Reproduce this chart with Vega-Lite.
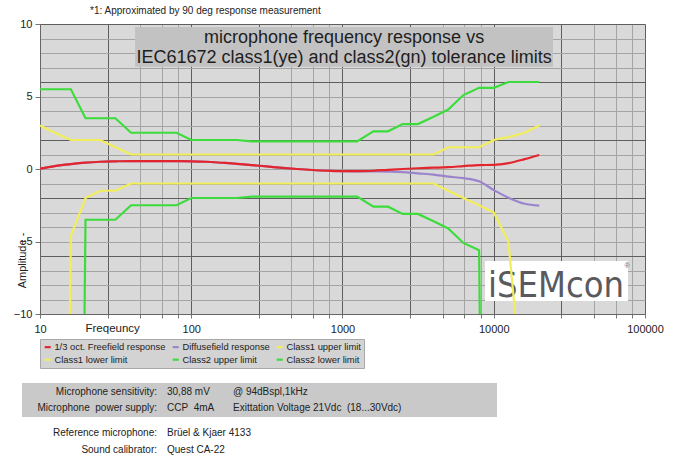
{
  "$schema": "https://vega.github.io/schema/vega-lite/v6.json",
  "background": "white",
  "padding": {"left": 13, "top": 6, "right": 4, "bottom": 0},
  "config": {
    "font": "Liberation Sans",
    "view": {"stroke": null},
    "axis": {"labelFont": "Liberation Sans", "titleFont": "Liberation Sans"},
    "legend": {"labelFont": "Liberation Sans"}
  },
  "datasets": {
    "limits": [
      {"f": 10, "v": 5.5, "s": "Class2 upper limit"},
      {"f": 16, "v": 5.5, "s": "Class2 upper limit"},
      {"f": 20, "v": 3.5, "s": "Class2 upper limit"},
      {"f": 31.5, "v": 3.5, "s": "Class2 upper limit"},
      {"f": 40, "v": 2.5, "s": "Class2 upper limit"},
      {"f": 80, "v": 2.5, "s": "Class2 upper limit"},
      {"f": 100, "v": 2.0, "s": "Class2 upper limit"},
      {"f": 200, "v": 2.0, "s": "Class2 upper limit"},
      {"f": 250, "v": 1.9, "s": "Class2 upper limit"},
      {"f": 1250, "v": 1.9, "s": "Class2 upper limit"},
      {"f": 1600, "v": 2.6, "s": "Class2 upper limit"},
      {"f": 2000, "v": 2.6, "s": "Class2 upper limit"},
      {"f": 2500, "v": 3.1, "s": "Class2 upper limit"},
      {"f": 3150, "v": 3.1, "s": "Class2 upper limit"},
      {"f": 4000, "v": 3.6, "s": "Class2 upper limit"},
      {"f": 5000, "v": 4.1, "s": "Class2 upper limit"},
      {"f": 6300, "v": 5.1, "s": "Class2 upper limit"},
      {"f": 8000, "v": 5.6, "s": "Class2 upper limit"},
      {"f": 10000, "v": 5.6, "s": "Class2 upper limit"},
      {"f": 12500, "v": 6.0, "s": "Class2 upper limit"},
      {"f": 20000, "v": 6.0, "s": "Class2 upper limit"},

      {"f": 16, "v": -100, "s": "Class2 lower limit"},
      {"f": 20, "v": -3.5, "s": "Class2 lower limit"},
      {"f": 31.5, "v": -3.5, "s": "Class2 lower limit"},
      {"f": 40, "v": -2.5, "s": "Class2 lower limit"},
      {"f": 80, "v": -2.5, "s": "Class2 lower limit"},
      {"f": 100, "v": -2.0, "s": "Class2 lower limit"},
      {"f": 200, "v": -2.0, "s": "Class2 lower limit"},
      {"f": 250, "v": -1.9, "s": "Class2 lower limit"},
      {"f": 1250, "v": -1.9, "s": "Class2 lower limit"},
      {"f": 1600, "v": -2.6, "s": "Class2 lower limit"},
      {"f": 2000, "v": -2.6, "s": "Class2 lower limit"},
      {"f": 2500, "v": -3.1, "s": "Class2 lower limit"},
      {"f": 3150, "v": -3.1, "s": "Class2 lower limit"},
      {"f": 4000, "v": -3.6, "s": "Class2 lower limit"},
      {"f": 5000, "v": -4.1, "s": "Class2 lower limit"},
      {"f": 6300, "v": -5.1, "s": "Class2 lower limit"},
      {"f": 8000, "v": -5.6, "s": "Class2 lower limit"},
      {"f": 10000, "v": -100, "s": "Class2 lower limit"},

      {"f": 10, "v": 3.0, "s": "Class1 upper limit"},
      {"f": 12.5, "v": 2.5, "s": "Class1 upper limit"},
      {"f": 16, "v": 2.0, "s": "Class1 upper limit"},
      {"f": 25, "v": 2.0, "s": "Class1 upper limit"},
      {"f": 31.5, "v": 1.5, "s": "Class1 upper limit"},
      {"f": 40, "v": 1.0, "s": "Class1 upper limit"},
      {"f": 4000, "v": 1.0, "s": "Class1 upper limit"},
      {"f": 5000, "v": 1.5, "s": "Class1 upper limit"},
      {"f": 8000, "v": 1.5, "s": "Class1 upper limit"},
      {"f": 10000, "v": 2.0, "s": "Class1 upper limit"},
      {"f": 12500, "v": 2.2, "s": "Class1 upper limit"},
      {"f": 16000, "v": 2.5, "s": "Class1 upper limit"},
      {"f": 20000, "v": 3.0, "s": "Class1 upper limit"},

      {"f": 12.5, "v": -100, "s": "Class1 lower limit"},
      {"f": 16, "v": -4.6, "s": "Class1 lower limit"},
      {"f": 20, "v": -2.0, "s": "Class1 lower limit"},
      {"f": 25, "v": -1.5, "s": "Class1 lower limit"},
      {"f": 31.5, "v": -1.5, "s": "Class1 lower limit"},
      {"f": 40, "v": -1.0, "s": "Class1 lower limit"},
      {"f": 4000, "v": -1.0, "s": "Class1 lower limit"},
      {"f": 5000, "v": -1.5, "s": "Class1 lower limit"},
      {"f": 6300, "v": -2.0, "s": "Class1 lower limit"},
      {"f": 8000, "v": -2.5, "s": "Class1 lower limit"},
      {"f": 10000, "v": -3.0, "s": "Class1 lower limit"},
      {"f": 12500, "v": -5.0, "s": "Class1 lower limit"},
      {"f": 16000, "v": -17.0, "s": "Class1 lower limit"}
    ],
    "diffuse": [
      {"f": 10, "v": 0.02, "s": "Diffusefield response"},
      {"f": 12.5, "v": 0.2, "s": "Diffusefield response"},
      {"f": 16, "v": 0.34, "s": "Diffusefield response"},
      {"f": 20, "v": 0.44, "s": "Diffusefield response"},
      {"f": 25, "v": 0.5, "s": "Diffusefield response"},
      {"f": 31.5, "v": 0.53, "s": "Diffusefield response"},
      {"f": 40, "v": 0.55, "s": "Diffusefield response"},
      {"f": 50, "v": 0.55, "s": "Diffusefield response"},
      {"f": 63, "v": 0.55, "s": "Diffusefield response"},
      {"f": 80, "v": 0.54, "s": "Diffusefield response"},
      {"f": 100, "v": 0.53, "s": "Diffusefield response"},
      {"f": 125, "v": 0.5, "s": "Diffusefield response"},
      {"f": 160, "v": 0.43, "s": "Diffusefield response"},
      {"f": 200, "v": 0.36, "s": "Diffusefield response"},
      {"f": 250, "v": 0.27, "s": "Diffusefield response"},
      {"f": 315, "v": 0.18, "s": "Diffusefield response"},
      {"f": 400, "v": 0.08, "s": "Diffusefield response"},
      {"f": 500, "v": 0.0, "s": "Diffusefield response"},
      {"f": 630, "v": -0.07, "s": "Diffusefield response"},
      {"f": 800, "v": -0.12, "s": "Diffusefield response"},
      {"f": 1000, "v": -0.15, "s": "Diffusefield response"},
      {"f": 1250, "v": -0.16, "s": "Diffusefield response"},
      {"f": 1600, "v": -0.17, "s": "Diffusefield response"},
      {"f": 2000, "v": -0.18, "s": "Diffusefield response"},
      {"f": 2500, "v": -0.21, "s": "Diffusefield response"},
      {"f": 3150, "v": -0.3, "s": "Diffusefield response"},
      {"f": 4000, "v": -0.39, "s": "Diffusefield response"},
      {"f": 5000, "v": -0.53, "s": "Diffusefield response"},
      {"f": 6300, "v": -0.63, "s": "Diffusefield response"},
      {"f": 8000, "v": -0.85, "s": "Diffusefield response"},
      {"f": 10000, "v": -1.45, "s": "Diffusefield response"},
      {"f": 12500, "v": -1.98, "s": "Diffusefield response"},
      {"f": 16000, "v": -2.4, "s": "Diffusefield response"},
      {"f": 20000, "v": -2.53, "s": "Diffusefield response"}
    ],
    "free": [
      {"f": 10, "v": 0.02, "s": "1/3 oct. Freefield response"},
      {"f": 12.5, "v": 0.2, "s": "1/3 oct. Freefield response"},
      {"f": 16, "v": 0.34, "s": "1/3 oct. Freefield response"},
      {"f": 20, "v": 0.44, "s": "1/3 oct. Freefield response"},
      {"f": 25, "v": 0.5, "s": "1/3 oct. Freefield response"},
      {"f": 31.5, "v": 0.53, "s": "1/3 oct. Freefield response"},
      {"f": 40, "v": 0.55, "s": "1/3 oct. Freefield response"},
      {"f": 50, "v": 0.55, "s": "1/3 oct. Freefield response"},
      {"f": 63, "v": 0.55, "s": "1/3 oct. Freefield response"},
      {"f": 80, "v": 0.54, "s": "1/3 oct. Freefield response"},
      {"f": 100, "v": 0.53, "s": "1/3 oct. Freefield response"},
      {"f": 125, "v": 0.5, "s": "1/3 oct. Freefield response"},
      {"f": 160, "v": 0.43, "s": "1/3 oct. Freefield response"},
      {"f": 200, "v": 0.36, "s": "1/3 oct. Freefield response"},
      {"f": 250, "v": 0.27, "s": "1/3 oct. Freefield response"},
      {"f": 315, "v": 0.18, "s": "1/3 oct. Freefield response"},
      {"f": 400, "v": 0.08, "s": "1/3 oct. Freefield response"},
      {"f": 500, "v": 0.0, "s": "1/3 oct. Freefield response"},
      {"f": 630, "v": -0.07, "s": "1/3 oct. Freefield response"},
      {"f": 800, "v": -0.12, "s": "1/3 oct. Freefield response"},
      {"f": 1000, "v": -0.15, "s": "1/3 oct. Freefield response"},
      {"f": 1250, "v": -0.15, "s": "1/3 oct. Freefield response"},
      {"f": 1600, "v": -0.12, "s": "1/3 oct. Freefield response"},
      {"f": 2000, "v": -0.06, "s": "1/3 oct. Freefield response"},
      {"f": 2500, "v": 0.0, "s": "1/3 oct. Freefield response"},
      {"f": 3150, "v": 0.05, "s": "1/3 oct. Freefield response"},
      {"f": 4000, "v": 0.09, "s": "1/3 oct. Freefield response"},
      {"f": 5000, "v": 0.13, "s": "1/3 oct. Freefield response"},
      {"f": 6300, "v": 0.2, "s": "1/3 oct. Freefield response"},
      {"f": 8000, "v": 0.27, "s": "1/3 oct. Freefield response"},
      {"f": 10000, "v": 0.28, "s": "1/3 oct. Freefield response"},
      {"f": 12500, "v": 0.4, "s": "1/3 oct. Freefield response"},
      {"f": 16000, "v": 0.68, "s": "1/3 oct. Freefield response"},
      {"f": 20000, "v": 0.97, "s": "1/3 oct. Freefield response"}
    ],
    "info1": [
      {"row": "1", "label": "Microphone sensitivity:", "value": "30,88 mV", "note": "@ 94dBspl,1kHz"},
      {"row": "2", "label": "Microphone\u00a0 power supply:", "value": "CCP\u00a0 4mA", "note": "Exittation Voltage 21Vdc\u00a0 (18...30Vdc)"}
    ],
    "info2": [
      {"row": "3", "label": "Reference microphone:", "value": "Brüel & Kjaer 4133"},
      {"row": "4", "label": "Sound calibrator:", "value": "Quest CA-22"}
    ]
  },
  "columns": 1,
  "spacing": 49,
  "concat": [
    {
      "width": 605,
      "height": 290,
      "view": {"fill": "#d9d9d9", "stroke": null},
      "title": {"text": "*1: Approximated by 90 deg response measurement", "fontSize": 10, "fontWeight": "normal", "anchor": "start", "frame": "group", "dx": 50, "offset": 2, "color": "#222"},
      "resolve": {"scale": {"x": "independent", "y": "independent"}},
      "layer": [
        {
          "layer": [
            {
              "data": {"values": [{"item": "title box"}]},
              "mark": {"type": "rect", "color": "#c2c2c2"},
              "encoding": {
                "x": {"datum": 42.5, "type": "quantitative", "scale": {"type": "log", "domain": [10, 100000], "nice": false}, "axis": null},
                "x2": {"datum": 24650},
                "y": {"datum": 9.8, "type": "quantitative", "scale": {"domain": [-10, 10], "nice": false}, "axis": null},
                "y2": {"datum": 7.05}
              }
            },
            {
              "data": {"values": [{"item": "title"}]},
              "mark": {"type": "text", "text": ["microphone frequency response vs", "IEC61672 class1(ye) and class2(gn) tolerance limits"], "fontSize": 18, "lineHeight": 20, "align": "center", "baseline": "middle", "color": "#1e1e1e"},
              "encoding": {
                "x": {"datum": 1024, "type": "quantitative", "axis": null},
                "y": {"datum": 9.03, "type": "quantitative", "axis": null}
              }
            },
            {
              "data": {"values": [{"item": "logo box"}]},
              "mark": {"type": "rect", "color": "#ffffff"},
              "encoding": {
                "x": {"datum": 8750, "type": "quantitative", "axis": null},
                "x2": {"datum": 77250},
                "y": {"datum": -6.35, "type": "quantitative", "axis": null},
                "y2": {"datum": -9.1}
              }
            },
            {
              "data": {"values": [{"item": "logo"}]},
              "mark": {"type": "text", "text": "iSEMcon", "font": "DejaVu Sans Condensed, Liberation Sans Narrow, sans-serif", "fontSize": 36, "align": "center", "baseline": "alphabetic", "color": "#5a5a5e"},
              "encoding": {
                "x": {"datum": 25800, "type": "quantitative", "axis": null},
                "y": {"datum": -8.83, "type": "quantitative", "axis": null}
              }
            },
            {
              "data": {"values": [{"item": "registered"}]},
              "mark": {"type": "text", "text": "®", "fontSize": 7, "align": "center", "baseline": "middle", "color": "#666"},
              "encoding": {
                "x": {"datum": 76000, "type": "quantitative", "axis": null},
                "y": {"datum": -6.7, "type": "quantitative", "axis": null}
              }
            }
          ]
        },
        {
          "encoding": {
            "x": {
              "field": "f", "type": "quantitative", "title": "Freqeuncy",
              "scale": {"type": "log", "domain": [10, 100000], "nice": false},
              "axis": {
                "orient": "bottom",
                "grid": true,
                "zindex": 0,
                "values": [10, 28, 46, 64, 82, 100, 280, 460, 640, 820, 1000, 2800, 4600, 6400, 8200, 10000, 28000, 46000, 64000, 82000, 100000],
                "format": "d",
                "labelExpr": "indexof([10,100,1000,10000,100000], datum.value) >= 0 ? datum.label : ''",
                "labelOverlap": false, "labelFlush": false, "labelBound": false,
                "labelFontSize": 11, "labelColor": "#222", "labelPadding": 5,
                "tickSize": 4, "tickColor": "#777", "domainColor": "#666",
                "gridColor": {"condition": {"test": "indexof([10,28,100,280,1000,2800,10000,28000,100000], datum.value) >= 0", "value": "#5e5e5e"}, "value": "#a4a4a4"},
                "gridOpacity": 1,
                "titleFontSize": 11.5, "titleFontWeight": "normal", "titleColor": "#222",
                "titleX": 45, "titleY": 14, "titleAlign": "left", "titleBaseline": "middle"
              }
            },
            "y": {
              "field": "v", "type": "quantitative", "title": "Amplitude -",
              "scale": {"domain": [-10, 10], "nice": false},
              "axis": {
                "orient": "left",
                "grid": true,
                "zindex": 0,
                "values": [-10, -9, -8, -7, -6, -5, -4, -3, -2, -1, 0, 1, 2, 3, 4, 5, 6, 7, 8, 9, 10],
                "labelExpr": "datum.value % 5 === 0 ? datum.label : ''",
                "labelOverlap": false, "labelFontSize": 11, "labelColor": "#222", "labelPadding": 3,
                "tickSize": 5, "tickColor": "#777", "domainColor": "#666",
                "tickOpacity": {"condition": {"test": "datum.value % 5 === 0", "value": 1}, "value": 0},
                "gridColor": {"condition": {"test": "(datum.value + 10) % 4 === 0", "value": "#5e5e5e"}, "value": "#a4a4a4"},
                "gridOpacity": 1,
                "titleFontSize": 11, "titleFontWeight": "normal", "titleColor": "#222",
                "titleX": -18, "titleY": 236, "titleAngle": 270, "titleAlign": "center", "titleBaseline": "middle"
              }
            },
            "color": {
              "field": "s", "type": "nominal",
              "scale": {
                "domain": ["1/3 oct. Freefield response", "Diffusefield response", "Class1 upper limit", "Class1 lower limit", "Class2 upper limit", "Class2 lower limit"],
                "range": ["#e3262d", "#9a84cc", "#f1ee5a", "#f1ee5a", "#3ddc3d", "#3ddc3d"]
              },
              "legend": {
                "orient": "none", "legendX": 0, "legendY": 315, "columns": 3, "direction": "horizontal", "title": null,
                "symbolType": "stroke", "symbolSize": 36, "symbolStrokeWidth": 2.2,
                "labelFontSize": 9.4, "labelColor": "#222", "labelLimit": 250, "labelOffset": 2,
                "fillColor": "#d3d3d3", "strokeColor": "#a8a8a8", "padding": 3, "columnPadding": 2, "rowPadding": 2
              }
            }
          },
          "layer": [
            {
              "data": {"name": "limits"},
              "mark": {"type": "line", "strokeWidth": 2.2, "clip": true}
            },
            {
              "data": {"name": "diffuse"},
              "mark": {"type": "line", "strokeWidth": 2.2, "clip": true, "interpolate": "monotone"}
            },
            {
              "data": {"name": "free"},
              "mark": {"type": "line", "strokeWidth": 2.2, "clip": true, "interpolate": "monotone"}
            }
          ]
        }
      ]
    },
    {
      "spacing": 7,
      "vconcat": [
        {
          "width": 475,
          "height": 34,
          "view": {"stroke": null},
          "layer": [
            {"data": {"values": [{"item": "info box"}]},
             "mark": {"type": "rect", "color": "#c9c9c9"},
             "encoding": {"x": {"datum": -18, "type": "quantitative", "scale": {"domain": [0, 475], "nice": false, "zero": false}, "axis": null}, "x2": {"datum": 457}}},
            {"data": {"name": "info1"},
             "mark": {"type": "text", "align": "right", "fontSize": 10, "color": "#222"},
             "encoding": {"x": {"datum": 117, "type": "quantitative"},
                          "y": {"field": "row", "type": "nominal", "scale": {"type": "point", "padding": 0.6}, "axis": null},
                          "text": {"field": "label"}}},
            {"data": {"name": "info1"},
             "mark": {"type": "text", "align": "left", "fontSize": 10, "color": "#222"},
             "encoding": {"x": {"datum": 127, "type": "quantitative"},
                          "y": {"field": "row", "type": "nominal"},
                          "text": {"field": "value"}}},
            {"data": {"name": "info1"},
             "mark": {"type": "text", "align": "left", "fontSize": 10, "color": "#222"},
             "encoding": {"x": {"datum": 193, "type": "quantitative"},
                          "y": {"field": "row", "type": "nominal"},
                          "text": {"field": "note"}}}
          ]
        },
        {
          "width": 475,
          "height": 34,
          "view": {"stroke": null},
          "data": {"name": "info2"},
          "layer": [
            {"mark": {"type": "text", "align": "right", "fontSize": 10, "color": "#222"},
             "encoding": {"x": {"datum": 117, "type": "quantitative", "scale": {"domain": [0, 475], "nice": false}, "axis": null},
                          "y": {"field": "row", "type": "nominal", "scale": {"type": "point", "padding": 0.5}, "axis": null},
                          "text": {"field": "label"}}},
            {"mark": {"type": "text", "align": "left", "fontSize": 10, "color": "#222"},
             "encoding": {"x": {"datum": 127, "type": "quantitative"},
                          "y": {"field": "row", "type": "nominal"},
                          "text": {"field": "value"}}}
          ]
        }
      ]
    }
  ]
}
